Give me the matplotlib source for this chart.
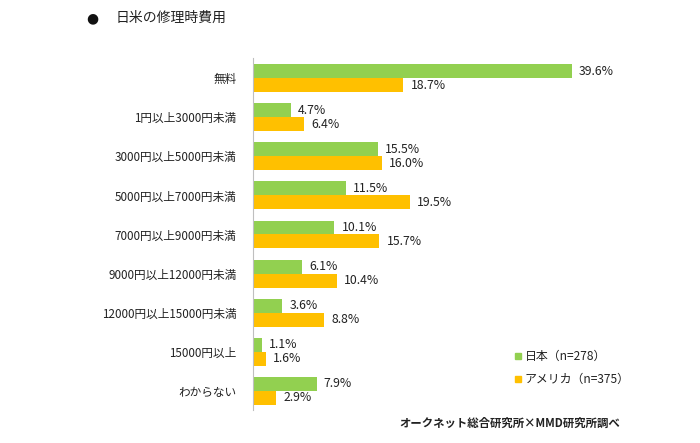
import matplotlib
matplotlib.use("Agg")
import matplotlib.pyplot as plt
import numpy as np

plt.rcParams['font.family'] = ['Noto Sans CJK JP', 'DejaVu Sans']

categories = ["無料", "1円以上3000円未満", "3000円以上5000円未満", "5000円以上7000円未満",
              "7000円以上9000円未満", "9000円以上12000円未満", "12000円以上15000円未満",
              "15000円以上", "わからない"]
japan = [39.6, 4.7, 15.5, 11.5, 10.1, 6.1, 3.6, 1.1, 7.9]
usa = [18.7, 6.4, 16.0, 19.5, 15.7, 10.4, 8.8, 1.6, 2.9]
series_names = ["日本（n=278）", "アメリカ（n=375）"]

green = "#92D050"
orange = "#FFC000"

fig = plt.figure(figsize=(7, 4.43), dpi=100)
ax = fig.add_axes([253/700, 1 - 410.5/443, 362/700, 352/443])

y = np.arange(len(categories))
h = 0.357
ax.barh(y - h/2, japan, height=h, color=green)
ax.barh(y + h/2, usa, height=h, color=orange)

for i in range(len(categories)):
    ax.text(japan[i] + 0.9, y[i] - h/2, f"{japan[i]:.1f}%", va="center", ha="left", fontsize=8.8, color="#222222")
    ax.text(usa[i] + 0.9, y[i] + h/2, f"{usa[i]:.1f}%", va="center", ha="left", fontsize=8.8, color="#222222")

ax.set_xlim(0, 45)
ax.set_ylim(len(categories) - 0.5, -0.5)
ax.set_yticks(y)
ax.set_yticklabels(categories, fontsize=8.4, color="#222222")
ax.tick_params(axis='y', length=0, pad=12)
ax.set_xticks([])
for s in ["top", "right", "bottom"]:
    ax.spines[s].set_visible(False)
ax.spines["left"].set_color("#BFBFBF")
ax.spines["left"].set_linewidth(0.8)

# legend
fig.patches.append(plt.Rectangle((515/700, 1 - 359/443), 6/700, 6/443, color=green, transform=fig.transFigure))
fig.text(525/700, 1 - 356/443, series_names[0], fontsize=8.6, va="center", ha="left", color="#222222")
fig.patches.append(plt.Rectangle((515/700, 1 - 382/443), 6/700, 6/443, color=orange, transform=fig.transFigure))
fig.text(525/700, 1 - 379/443, series_names[1], fontsize=8.6, va="center", ha="left", color="#222222")

# title
fig.text(92/700, 1 - 18/443, "●", fontsize=10, va="center", ha="center", color="#111111", family="DejaVu Sans")
fig.text(116/700, 1 - 18/443, "日米の修理時費用", fontsize=10, va="center", ha="left", color="#222222")

# source
fig.text(620/700, 1 - 423/443, "オークネット総合研究所×MMD研究所調べ", fontsize=8.2, va="center", ha="right",
         color="#222222", fontweight="bold")

fig.savefig("out.png", dpi=100, facecolor="white")
